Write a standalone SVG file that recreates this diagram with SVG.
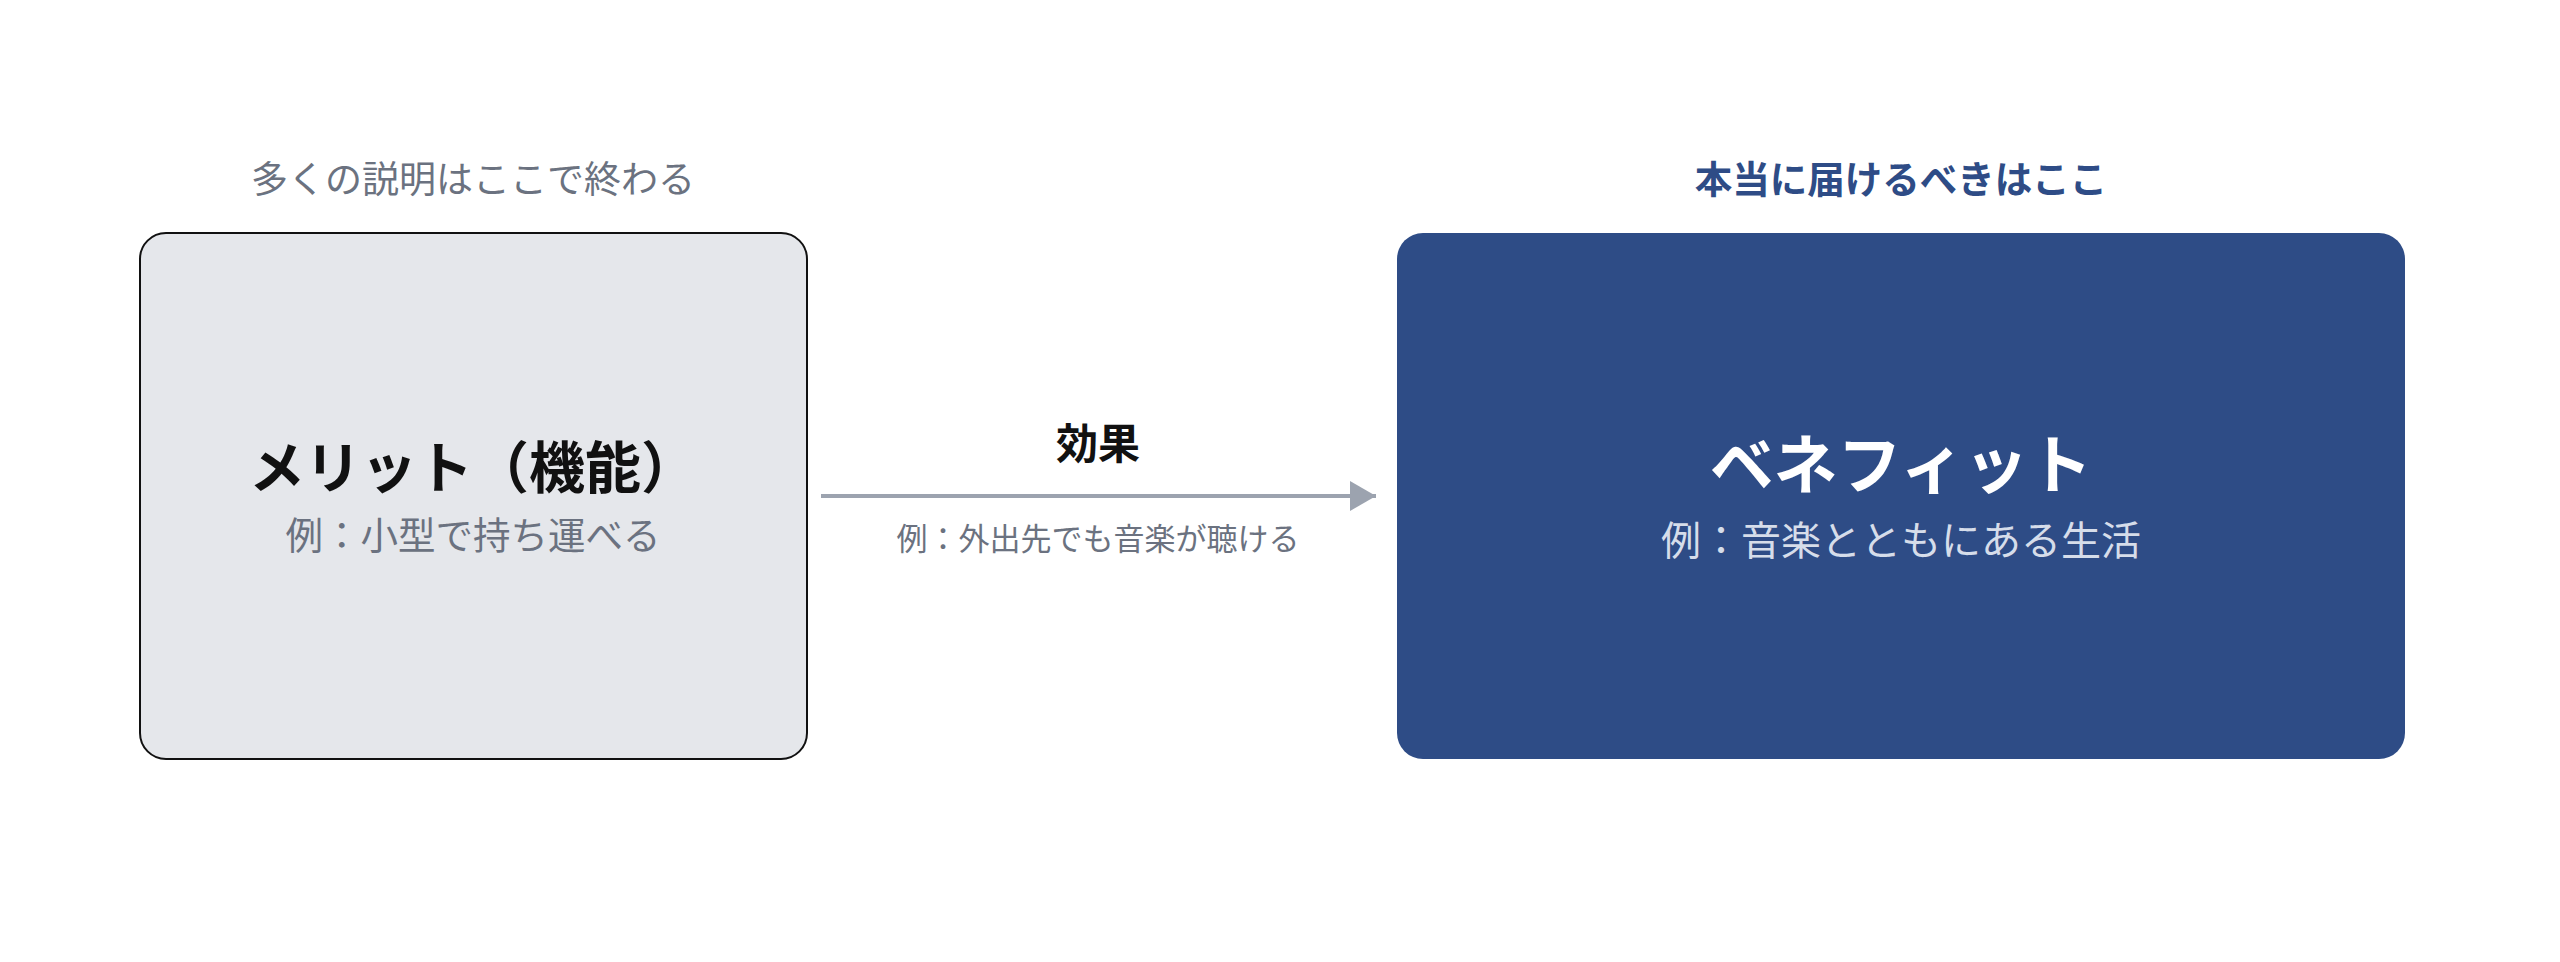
<svg xmlns="http://www.w3.org/2000/svg" width="2560" height="962" viewBox="0 0 2560 962">
<style>
text{font-family:"Noto Sans CJK JP","Noto Sans",sans-serif;text-anchor:middle}
.cap{font-size:37px;fill:#6B7280}
.capb{font-size:37.5px;font-weight:700;fill:#2E4C86}
.t1{font-size:56px;font-weight:700;fill:#111111}
.s1{font-size:37.5px;fill:#6B7280}
.t2{font-size:64px;font-weight:700;fill:#FFFFFF}
.s2{font-size:40px;fill:#D6DDEA}
.el{font-size:42px;font-weight:700;fill:#111111}
.es{font-size:31px;fill:#6B7280}
</style>
<defs>
<marker id="ah" markerWidth="26" markerHeight="30" refX="26" refY="15" orient="auto" markerUnits="userSpaceOnUse">
<path d="M0,0 L26,15 L0,30 Z" fill="#9CA3AF"/>
</marker>
</defs>
<rect width="2560" height="962" fill="#FFFFFF"/>
<g id="merit">
<text class="cap" x="473" y="193">多くの説明はここで終わる</text>
<rect x="140" y="233" width="667" height="526" rx="26" fill="#E5E7EB" stroke="#111111" stroke-width="2"/>
<text class="t1" x="473" y="488">メリット（機能）</text>
<text class="s1" x="473" y="549">例：小型で持ち運べる</text>
</g>
<g id="benefit">
<text class="capb" x="1901" y="193">本当に届けるべきはここ</text>
<rect x="1397" y="233" width="1008" height="526" rx="26" fill="#2E4C86"/>
<text class="t2" x="1901" y="488">ベネフィット</text>
<text class="s2" x="1901" y="555">例：音楽とともにある生活</text>
</g>
<g id="connectors">
<line x1="821" y1="496" x2="1376" y2="496" stroke="#9CA3AF" stroke-width="4" marker-end="url(#ah)"/>
<text class="el" x="1098" y="459">効果</text>
<text class="es" x="1098" y="550">例：外出先でも音楽が聴ける</text>
</g>
</svg>
